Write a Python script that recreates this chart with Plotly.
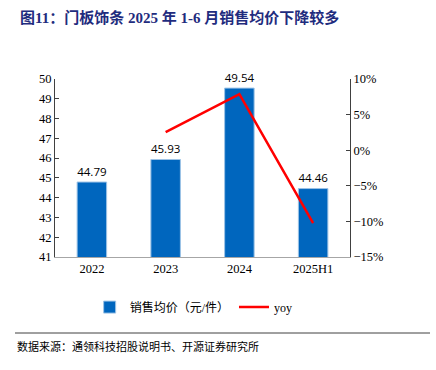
import plotly.graph_objects as go

categories = ["2022", "2023", "2024", "2025H1"]
price = [44.79, 45.93, 49.54, 44.46]
yoy_cats = ["2023", "2024", "2025H1"]
yoy = [2.55, 7.86, -10.25]
price_labels = ["44.79", "45.93", "49.54", "44.46"]

serif = "Times New Roman, Liberation Serif, Noto Sans CJK SC, serif"

fig = go.Figure()
fig.add_trace(go.Bar(
    x=categories, y=price, name="销售均价（元/件）",
    marker=dict(color="#0066BE", line=dict(color="#9DC3E6", width=1)),
    width=0.4, text=price_labels, textposition="outside",
    textfont=dict(family="Open Sans, Liberation Sans, sans-serif", size=14, color="#000"),
    cliponaxis=False,
))
fig.add_trace(go.Scatter(
    x=yoy_cats, y=yoy, name="yoy", yaxis="y2", mode="lines",
    line=dict(color="#FF0000", width=2.5),
))

fig.update_layout(
    width=436, height=370,
    margin=dict(l=55, r=86, t=79, b=113),
    paper_bgcolor="white", plot_bgcolor="white",
    showlegend=True,
    font=dict(family=serif, size=12, color="#000"),
    xaxis=dict(showline=True, linecolor="#A6A6A6", linewidth=1, ticks="",
               tickfont=dict(family=serif, size=12.5, color="#000"), showgrid=False),
    yaxis=dict(range=[41, 50], dtick=1, showline=True, linecolor="#404040", linewidth=1,
               ticks="inside", ticklen=4, tickcolor="#404040", showgrid=False,
               tickfont=dict(family=serif, size=12.5, color="#000"), zeroline=False),
    yaxis2=dict(range=[-15, 10], dtick=5, overlaying="y", side="right",
                showline=True, linecolor="#404040", linewidth=1, ticks="inside",
                ticklen=4, tickcolor="#404040", showgrid=False, zeroline=False,
                ticksuffix="%", tickfont=dict(family=serif, size=12.5, color="#000")),
    legend=dict(orientation="h", x=0.47, xanchor="center", y=-0.2, yanchor="top",
                font=dict(family=serif, size=12), tracegroupgap=0),
)

fig.add_annotation(text="<b>图11：门板饰条 2025 年 1-6 月销售均价下降较多</b>",
                   xref="paper", yref="paper", x=-37/295, y=1 + 61/178,
                   xanchor="left", yanchor="middle", showarrow=False,
                   font=dict(family=serif, size=15, color="#1F2C7E"))
fig.add_annotation(text="数据来源：通领科技招股说明书、开源证券研究所",
                   xref="paper", yref="paper", x=-40/295, y=-(346 - 257) / 178,
                   xanchor="left", yanchor="middle", showarrow=False,
                   font=dict(family="Noto Sans CJK SC, serif", size=11, color="#000"))
fig.add_shape(type="line", xref="paper", yref="paper",
              x0=-40/295, x1=(430 - 55) / 295, y0=-(333 - 257) / 178, y1=-(333 - 257) / 178,
              line=dict(color="#404040", width=1))

fig.write_html("out.html", config={"displayModeBar": False},
               post_script="document.body.style.margin='0';document.body.style.overflow='hidden';")
